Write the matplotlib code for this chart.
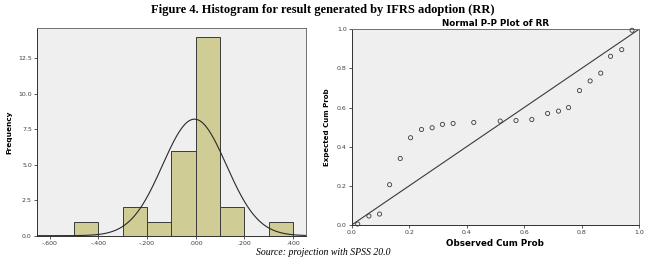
import matplotlib
matplotlib.use("Agg")
import matplotlib.pyplot as plt
import numpy as np

# Histogram data (bins of width 0.1)
bin_edges = [-0.5, -0.4, -0.3, -0.2, -0.1, 0.0, 0.1, 0.2, 0.3, 0.4]
counts = [1, 0, 2, 1, 6, 14, 2, 0, 1]
# fitted normal curve parameters
fit_mean = -0.005
fit_sd = 0.131
fit_n = 27

hist_xticks = [-0.6, -0.4, -0.2, 0.0, 0.2, 0.4]
hist_xticklabels = ["-.600", "-.400", "-.200", ".000", ".200", ".400"]
hist_yticks = [0.0, 2.5, 5.0, 7.5, 10.0, 12.5]

# P-P plot data
observed = [0.021, 0.060, 0.097, 0.132, 0.169, 0.205, 0.243, 0.280, 0.316, 0.353,
            0.425, 0.517, 0.572, 0.627, 0.682, 0.720, 0.755, 0.793, 0.830, 0.867,
            0.901, 0.940, 0.976]
expected = [0.005, 0.046, 0.056, 0.206, 0.340, 0.446, 0.488, 0.497, 0.514, 0.519,
            0.524, 0.531, 0.534, 0.539, 0.570, 0.582, 0.600, 0.687, 0.736, 0.776,
            0.862, 0.896, 0.995]
pp_ticks = [0.0, 0.2, 0.4, 0.6, 0.8, 1.0]

bg = "#efefef"
bar_color = "#d0cc96"
frame = "#707070"

fig = plt.figure(figsize=(6.46, 2.58), dpi=100)

# Histogram
ax1 = fig.add_axes([0.0568, 0.0864, 0.4169, 0.805])
ax1.set_facecolor(bg)
widths = np.diff(bin_edges)
ax1.bar(bin_edges[:-1], counts, width=widths, align="edge", color=bar_color,
        edgecolor="#3a3a3a", linewidth=0.7, zorder=2)
xs = np.linspace(-0.65, 0.45, 300)
ys = fit_n * widths[0] / (fit_sd * np.sqrt(2 * np.pi)) * np.exp(-0.5 * ((xs - fit_mean) / fit_sd) ** 2)
ax1.plot(xs, ys, color="#2a2a2a", linewidth=0.8, zorder=3)
ax1.set_xlim(-0.653, 0.453)
ax1.set_ylim(0, 14.65)
ax1.set_xticks(hist_xticks)
ax1.set_xticklabels(hist_xticklabels)
ax1.set_yticks(hist_yticks)
ax1.set_yticklabels([f"{v:.1f}" for v in hist_yticks])
ax1.tick_params(labelsize=4.5, length=2, width=0.6, pad=1.5, colors="#404040")
ax1.set_ylabel("Frequency", fontsize=5.3, fontweight="bold", labelpad=4,
               family="Liberation Sans Narrow")
for s in ax1.spines.values():
    s.set_color(frame)
    s.set_linewidth(0.7)
ax1.spines["left"].set_color("#303030")
ax1.spines["bottom"].set_color("#303030")

# P-P plot
ax2 = fig.add_axes([0.5444, 0.1279, 0.4447, 0.7585])
ax2.set_facecolor(bg)
ax2.plot([0, 1], [0, 1], color="#3a3a3a", linewidth=0.8, zorder=2)
ax2.scatter(observed, expected, s=9, facecolors="none", edgecolors="#3a3a3a",
            linewidths=0.6, zorder=3, clip_on=False)
ax2.set_xlim(0, 1)
ax2.set_ylim(0, 1)
ax2.set_xticks(pp_ticks)
ax2.set_yticks(pp_ticks)
ax2.set_xticklabels([f"{v:.1f}" for v in pp_ticks])
ax2.set_yticklabels([f"{v:.1f}" for v in pp_ticks])
ax2.tick_params(labelsize=4.5, length=2, width=0.6, pad=1.5, colors="#404040")
ax2.set_title("Normal P-P Plot of RR", fontsize=6.3, fontweight="bold", pad=2.5,
              family="DejaVu Sans")
ax2.set_xlabel("Observed Cum Prob", fontsize=6.3, fontweight="bold", labelpad=3,
               family="DejaVu Sans")
ax2.set_ylabel("Expected Cum Prob", fontsize=5, fontweight="bold", labelpad=5,
               family="Liberation Sans Narrow")
for s in ax2.spines.values():
    s.set_color(frame)
    s.set_linewidth(0.7)
ax2.spines["left"].set_color("#303030")
ax2.spines["bottom"].set_color("#303030")

fig.text(0.5, 0.962, "Figure 4. Histogram for result generated by IFRS adoption (RR)",
         ha="center", va="center", fontsize=9, fontweight="bold", family="Liberation Serif")
fig.text(0.5, 0.022, "Source: projection with SPSS 20.0", ha="center", va="center",
         fontsize=7, style="italic", family="Liberation Serif")

fig.savefig("out.png", dpi=100)
